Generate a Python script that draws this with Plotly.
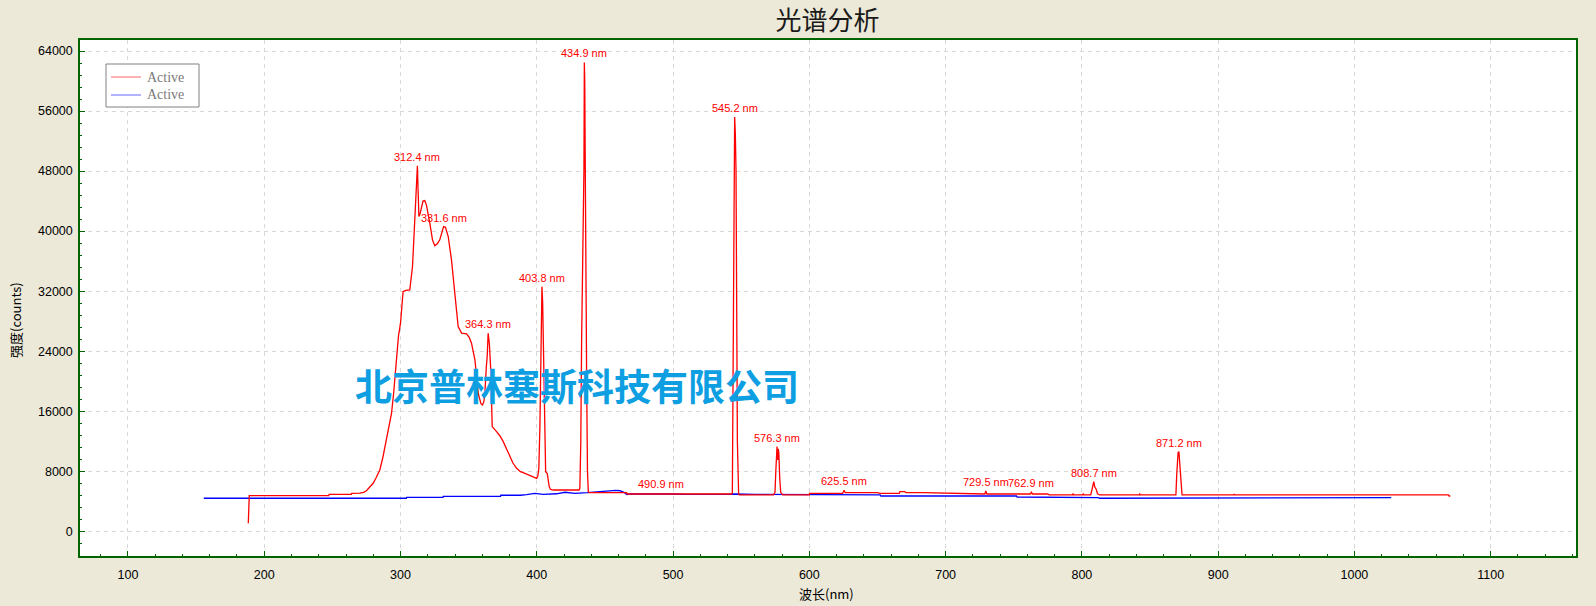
import plotly.graph_objects as go

# ---------------- data ----------------
red_nm = [188.3, 188.6, 189.0, 247.4, 247.6, 264.0, 264.2, 270, 273, 275, 277, 279.9, 282, 284.8,
          287, 289.7, 291.5, 293.4, 295, 297, 298.5, 300, 301.9, 304, 306.8, 308.8, 310.5, 311.5,
          312.2, 312.4, 312.8, 313.5, 314.2, 315.5, 316.5, 317.8, 319, 321.5, 323.5, 325.2, 327,
          328.8, 330.5, 331.6, 333, 335, 337.4, 339.9, 342.3, 344.8, 346.5, 348.5, 350.5, 352.1,
          354.6, 357, 359, 360.2, 361.2, 361.9, 363.0, 363.6, 364.3, 365.2, 366.1, 367.3, 370.5,
          373, 375.4, 378, 380.2, 382.5, 385.2, 388, 390, 393, 396.2, 398, 399.9, 400.8, 401.5,
          402.3, 403.0, 403.5, 403.8, 404.3, 405.0, 405.8, 406.5, 407.7, 408.4, 409.1, 410, 412,
          431.0, 431.6, 432.3, 432.9, 434.6, 434.9, 435.2, 435.6, 436.0, 436.6, 437.2, 437.8,
          438.5, 466.0, 466.3, 490.5, 490.9, 491.3, 543.0, 543.5, 544.2, 545.0, 545.2, 545.7,
          546.2, 546.7, 547.2, 548.1, 548.5, 573.6, 574.8, 575.4, 576.0, 576.3, 576.6, 576.9,
          577.2, 577.6, 578.3, 579.0, 580.5, 600.0, 600.2, 624.5, 625.5, 626.3, 650.0, 651.8,
          666.0, 666.5, 670.0, 671.0, 683.7, 700.0, 710.6, 728.8, 729.5, 730.3, 762.2, 762.9,
          763.8, 775.0, 776.0, 793.0, 793.5, 794.0, 800.5, 801.0, 801.5, 806.5, 807.5, 808.7,
          809.5, 810.5, 811.5, 813.0, 842.0, 842.4, 843.0, 869.0, 869.6, 870.6, 871.2, 871.8,
          872.5, 873.5, 911.5, 911.8, 912.2, 1069.0, 1069.5, 1070.4]
red_counts = [1070, 2000, 4750, 4750, 4930, 4930, 5060, 5080, 5200, 5400, 5800, 6400, 7100, 8170,
              9800, 12170, 14000, 15700, 18500, 23280, 26000, 27730, 31950, 32100, 32170, 35280,
              41070, 44500, 48600, 48700, 46000, 41950, 42200, 43500, 44000, 44080, 43500, 41070,
              38800, 38040, 38300, 38840, 40000, 40600, 40500, 39280, 36170, 31730, 27280, 26400,
              26350, 26300, 25800, 25070, 22840, 18400, 17000, 16840, 17300, 18400, 22000, 23280,
              26400, 25000, 21950, 13950, 13280, 12700, 11950, 10950, 9950, 9100, 8400, 7950, 7810,
              7600, 7370, 7200, 7060, 7400, 8400, 14000, 21070, 30000, 32600, 30500, 21070, 12000,
              7950, 7700, 6500, 5950, 5600, 5500, 5500, 5730, 12000, 25500, 48170, 62480, 60000,
              48000, 30000, 20000, 8000, 5280, 5150, 5150, 4970, 4970, 5040, 4970, 4970, 5100,
              22840, 47000, 55200, 53000, 48000, 30000, 12000, 5070, 4840, 4840, 5200, 8000, 10600,
              11280, 10000, 9500, 11000, 10500, 7000, 5200, 4840, 4840, 5060, 5060, 5460, 5150,
              5150, 5060, 5060, 5280, 5280, 5150, 5150, 5100, 4970, 4970, 5370, 4970, 4970, 5200,
              4970, 4970, 4840, 4840, 4970, 4840, 4840, 4970, 4840, 4840, 5600, 6620, 5900, 5600,
              5000, 4840, 4840, 4970, 4840, 4840, 7510, 10500, 10620, 9000, 7510, 4840, 4840, 4970,
              4840, 4840, 4700, 4700]

blue_nm = [155.6, 304.3, 304.5, 331.2, 331.4, 373.4, 373.6, 380.2, 380.5, 387.6, 388.0, 392.5,
           398.6, 404.7, 414.5, 420.6, 428.0, 437.0, 440.0, 445.0, 454.0, 458.0, 461.0, 464.0,
           466.0, 468.0, 500.0, 510.0, 540.0, 545.0, 560.0, 574.0, 574.5, 652.0, 652.5, 752.0,
           752.5, 796.0, 800.0, 812.0, 813.0, 848.0, 849.0, 1027.0]
blue_counts = [4400, 4400, 4530, 4530, 4660, 4660, 4800, 4800, 4700, 4700, 4800, 4880,
               5060, 4930, 5000, 5200, 5060, 5150, 5200, 5300, 5400, 5460, 5400, 5200,
               4900, 4970, 4970, 4930, 4930, 4970, 4930, 4930, 4840, 4840, 4700, 4700,
               4570, 4570, 4480, 4480, 4400, 4400, 4480, 4480]

peak_nm = [312.4, 331.6, 364.3, 403.8, 434.9, 490.9, 545.2, 576.3, 625.5, 729.5, 762.9, 808.7, 871.2]
peak_counts = [48700, 40600, 26400, 32600, 62480, 5040, 55200, 11280, 5460, 5370, 5200, 6620, 10620]
peak_labels = ["312.4 nm", "331.6 nm", "364.3 nm", "403.8 nm", "434.9 nm", "490.9 nm", "545.2 nm",
               "576.3 nm", "625.5 nm", "729.5 nm", "762.9 nm", "808.7 nm", "871.2 nm"]

y_ticks = [0, 8000, 16000, 24000, 32000, 40000, 48000, 56000, 64000]
x_ticks = [100, 200, 300, 400, 500, 600, 700, 800, 900, 1000, 1100]

series_names = ["Active", "Active"]
series_colors = ["#FF0000", "#0000FF"]
title_text = "光谱分析"
x_title = "波长(nm)"
y_title = "强度(counts)"
watermark = "北京普林塞斯科技有限公司"

# ---------------- figure ----------------
W, H = 1596, 606
ML, MR, MT, MB = 80, 20, 40, 50
PW, PH = W - ML - MR, H - MT - MB


def px_x(p):
    return (p - ML) / PW


def px_y(p):
    return (MT + PH - p) / PH


fig = go.Figure()
fig.add_trace(go.Scatter(x=blue_nm, y=blue_counts, mode="lines", name=series_names[1],
                         line=dict(color=series_colors[1], width=1.3), showlegend=False))
fig.add_trace(go.Scatter(x=red_nm, y=red_counts, mode="lines", name=series_names[0],
                         line=dict(color=series_colors[0], width=1.3), showlegend=False))

green = "#006400"
axis_common = dict(
    showline=True, linecolor=green, linewidth=1.5, mirror=True,
    ticks="inside", ticklen=5, tickcolor=green, tickwidth=1,
    showgrid=True, gridcolor="#D8D8D8", griddash="4px,4px", gridwidth=1,
    zeroline=False,
    tickfont=dict(family="Liberation Sans, Arial, sans-serif", size=12.5, color="#000000"),
)

fig.update_layout(
    width=W, height=H,
    paper_bgcolor="#ECE9D8", plot_bgcolor="#FFFFFF",
    margin=dict(l=ML, r=MR, t=MT, b=MB, autoexpand=False),
    title=dict(text=title_text, x=827.5 / W, xanchor="center", xref="container",
               y=1 - 21 / H, yanchor="middle", yref="container",
               font=dict(family="Noto Sans CJK SC", size=26, color="#1A1A1A")),
    xaxis=dict(range=[64.8, 1162.6], tickvals=x_ticks, ticktext=[str(v) for v in x_ticks],
               minor=dict(dtick=20, tick0=0, ticks="inside", ticklen=2.5, tickcolor=green, showgrid=False),
               ticklabelstandoff=6, **axis_common),
    yaxis=dict(range=[-3293, 65467], tickvals=y_ticks, ticktext=[str(v) for v in y_ticks],
               minor=dict(dtick=1600, tick0=0, ticks="inside", ticklen=2.5, tickcolor=green, showgrid=False),
               ticklabelstandoff=3, **axis_common),
    showlegend=False,
    hovermode=False,
)

# legend box (drawn as shapes + text to match the original widget)
shapes = [dict(type="rect", xref="paper", yref="paper", x0=px_x(106), x1=px_x(199),
               y0=px_y(107), y1=px_y(64), line=dict(color="#808080", width=1), fillcolor="#FFFFFF",
               layer="above")]
annotations = []
for i, (nm_, col) in enumerate(zip(series_names, series_colors)):
    yy = 77 + i * 18
    shapes.append(dict(type="line", xref="paper", yref="paper", x0=px_x(111), x1=px_x(141),
                       y0=px_y(yy), y1=px_y(yy), line=dict(color=col, width=1), opacity=0.6,
                       layer="above"))
    annotations.append(dict(x=px_x(145), y=px_y(yy), xref="paper", yref="paper", text=nm_,
                            showarrow=False, xanchor="left", yanchor="middle",
                            font=dict(family="Liberation Serif, Times New Roman, serif", size=14,
                                      color="#7A7A7A")))

for nm, c, lab in zip(peak_nm, peak_counts, peak_labels):
    annotations.append(dict(x=nm, y=c, xref="x", yref="y", text=lab, showarrow=False,
                            xanchor="center", yanchor="bottom", yshift=1,
                            font=dict(family="Liberation Sans, Arial, sans-serif", size=11, color="#FF0000")))
annotations.append(dict(x=px_x(576.5), y=px_y(384.5), xref="paper", yref="paper",
                        text="<b>" + watermark + "</b>", showarrow=False, xanchor="center", yanchor="middle",
                        font=dict(family="Noto Sans CJK SC", size=37, color="#0E9FE3")))
annotations.append(dict(x=px_x(826.7), y=px_y(593.3), xref="paper", yref="paper",
                        text=x_title, showarrow=False, xanchor="center", yanchor="middle",
                        font=dict(family="Noto Sans CJK SC", size=13, color="#000000")))
annotations.append(dict(x=px_x(15), y=px_y(320), xref="paper", yref="paper",
                        text=y_title, showarrow=False, xanchor="center", yanchor="middle", textangle=-90,
                        font=dict(family="Noto Sans CJK SC", size=13, color="#000000")))
fig.update_layout(annotations=annotations, shapes=shapes)

fig.write_html("out.html",
               config={"displayModeBar": False},
               post_script="document.body.style.margin='0';document.body.style.padding='0';"
                           "document.body.style.background='#ECE9D8';")
